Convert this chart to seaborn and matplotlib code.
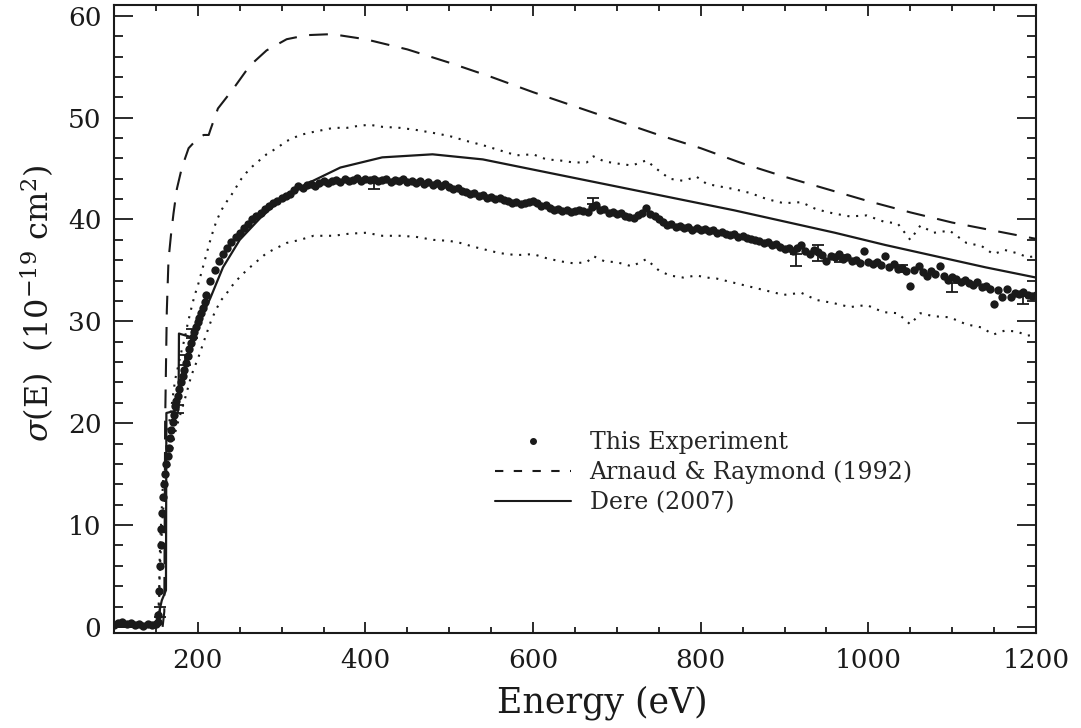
import numpy as np
import pandas as pd
import matplotlib
matplotlib.use("Agg")
import matplotlib.pyplot as plt
from matplotlib.ticker import MultipleLocator
from matplotlib.lines import Line2D
import seaborn as sns

# ---------------- data ----------------
exp_E = [100, 105, 110, 115, 120, 125, 130, 135, 140, 145,
         150, 152, 153, 154, 154.5, 155.5, 156.5, 157.5, 158.5, 159.5,
         161, 162.5, 164, 165.5, 167, 168.5, 170, 171.5, 173, 174.5,
         176, 178, 180, 182, 184, 186, 188, 190, 192, 194,
         196, 198, 200, 202, 204, 206, 208,
         210, 215, 220, 225, 230, 235, 240, 245, 250, 255,
         260, 265, 270, 275, 280, 285, 290, 295, 300, 305,
         310, 315, 320, 325, 330, 335, 340, 345, 350, 355,
         360, 365, 370, 375, 380, 385, 390, 395, 400, 405,
         410, 415, 420, 425, 430, 435, 440, 445, 450, 455,
         460, 465, 470, 475, 480, 485, 490, 495, 500, 505,
         510, 515, 520, 525, 530, 535, 540, 545, 550, 555,
         560, 565, 570, 575, 580, 585, 590, 595, 600, 605,
         610, 615, 620, 625, 630, 635, 640, 645, 650, 655,
         660, 665, 670, 675, 680, 685, 690, 695, 700, 705,
         710, 715, 720, 725, 730, 735, 740, 745, 750, 755,
         760, 765, 770, 775, 780, 785, 790, 795, 800, 805,
         810, 815, 820, 825, 830, 835, 840, 845, 850, 855,
         860, 865, 870, 875, 880, 885, 890, 895, 900, 905,
         910, 915, 920, 925, 930, 935, 940, 945, 950, 955,
         960, 965, 970, 975, 980, 985, 990, 995, 1000, 1005,
         1010, 1015, 1020, 1025, 1030, 1035, 1040, 1045, 1050, 1055,
         1060, 1065, 1070, 1075, 1080, 1085, 1090, 1095, 1100, 1105,
         1110, 1115, 1120, 1125, 1130, 1135, 1140, 1145, 1150, 1155,
         1160, 1165, 1170, 1175, 1180, 1185, 1190, 1195, 1200]
exp_sigma = [0.2, 0.4, 0.5, 0.3, 0.4, 0.2, 0.3, 0.1, 0.3, 0.2,
             0.3, 0.5, 1.2, 3.5, 6.0, 8.0, 9.6, 11.2, 12.8, 14.0,
             15.0, 16.0, 16.8, 17.6, 18.5, 19.3, 20.1, 20.8, 21.7, 22.2,
             22.7, 23.4, 24.0, 24.6, 25.2, 25.9, 26.6, 27.3, 27.9, 28.5,
             29.0, 29.4, 29.9, 30.3, 30.8, 31.3, 31.9,
             32.6, 34.0, 35.0, 35.9, 36.6, 37.2, 37.8, 38.3, 38.7, 39.2,
             39.6, 40.0, 40.3, 40.6, 41.0, 41.3, 41.6, 41.8, 42.1, 42.3,
             42.5, 42.9, 43.3, 43.1, 43.4, 43.5, 43.3, 43.6, 43.8, 43.6,
             43.8, 43.9, 43.7, 44.0, 43.8, 43.9, 44.1, 43.8, 44.0, 43.9,
             44.0, 43.8, 43.9, 44.0, 43.7, 43.9, 43.8, 44.0, 43.7, 43.8,
             43.6, 43.8, 43.5, 43.7, 43.4, 43.6, 43.3, 43.5, 43.2, 43.0,
             43.1, 42.8, 42.7, 42.5, 42.6, 42.3, 42.4, 42.1, 42.2, 42.0,
             42.1, 41.9, 41.8, 41.6, 41.7, 41.5, 41.6, 41.7, 41.8, 41.6,
             41.3, 41.4, 41.1, 40.9, 41.0, 40.8, 40.9, 40.7, 40.8, 40.9,
             40.8, 40.7, 41.2, 41.4, 40.9, 41.0, 40.6, 40.7, 40.5, 40.6,
             40.3, 40.2, 40.1, 40.4, 40.6, 41.1, 40.5, 40.3, 40.0, 39.8,
             39.5, 39.6, 39.3, 39.4, 39.2, 39.3, 39.0, 39.2, 39.0, 39.1,
             38.9, 39.0, 38.7, 38.8, 38.6, 38.5, 38.6, 38.3, 38.4, 38.2,
             38.1, 38.0, 37.9, 37.7, 37.8, 37.5, 37.6, 37.3, 37.1, 37.2,
             36.9, 37.2, 37.5, 36.9, 36.6, 37.0, 36.8, 36.5, 35.9, 36.4,
             36.3, 36.6, 36.1, 36.3, 35.9, 36.0, 35.7, 36.9, 35.8, 35.6,
             35.8, 35.5, 36.4, 35.3, 35.6, 35.1, 35.2, 34.9, 33.5, 35.0,
             35.4, 34.8, 34.5, 34.9, 34.6, 35.4, 34.5, 34.1, 34.4, 34.2,
             33.9, 34.1, 33.8, 33.6, 33.9, 33.4, 33.5, 33.2, 31.7, 33.1,
             32.4, 33.2, 32.4, 32.8, 32.7, 32.9, 32.6, 32.5, 32.6]

# points carrying visible error bars
err_E = [155, 176, 185, 193, 410, 672, 914, 940, 966, 1040, 1100, 1185]
err_sigma = [1.5, 21.4, 26.2, 28.8, 43.3, 41.8, 36.0, 36.7, 36.2, 35.2, 33.3, 32.1]
err_size = [0.5, 0.4, 0.5, 0.4, 0.3, 0.3, 0.6, 0.8, 0.35, 0.35, 0.45, 0.35]

# upper / lower systematic-uncertainty bounds (dotted)
up_E = [100, 120, 140, 150, 152, 153, 154, 154.5, 155.5, 156.5, 157.5, 158.5, 159.5,
        161, 163, 165, 167, 170, 173, 176, 180, 184, 188, 192, 196, 200, 205, 210,
        216, 222, 228, 234, 240, 246, 252, 258, 265, 272, 282, 294, 306, 322, 338,
        362, 378, 392, 405, 420, 441, 460, 481, 500, 521, 540, 560, 580, 600, 616,
        632, 648, 664, 672, 685, 700, 718, 735, 750, 763, 779, 795, 807, 819, 839,
        859, 879, 899, 920, 938, 958, 978, 998, 1018, 1035, 1050, 1062, 1078, 1097,
        1117, 1135, 1149, 1163, 1177, 1190, 1200]
up_sigma = [0.3, 0.4, 0.3, 0.35, 0.6, 1.4, 3.9, 6.7, 9.0, 10.8, 12.5, 14.3, 15.7,
            16.8, 18.0, 19.6, 20.7, 22.5, 24.3, 25.4, 26.9, 28.2, 29.8, 31.2, 32.5, 33.5, 35.0, 36.5,
            38.3, 39.8, 40.9, 41.7, 42.4, 43.2, 44.0, 44.6, 45.2, 45.7, 46.4, 47.0, 47.7, 48.3, 48.6,
            49.0, 49.0, 49.2, 49.3, 49.1, 49.0, 48.8, 48.5, 48.2, 47.7, 47.3, 46.8, 46.3, 46.4, 45.9,
            45.8, 45.6, 45.6, 46.2, 45.7, 45.5, 45.3, 45.8, 44.8, 44.0, 43.8, 44.2, 43.5, 43.3, 43.0,
            42.6, 42.0, 41.6, 41.7, 41.0, 40.6, 40.3, 40.4, 39.8, 39.6, 38.0, 39.4, 38.7, 38.9,
            37.7, 37.4, 36.6, 37.0, 36.7, 36.3, 36.4]
lo_E = [100, 120, 140, 150, 152, 153, 154, 154.5, 155.5, 156.5, 157.5, 158.5, 159.5,
        161, 163, 165, 167, 170, 173, 176, 180, 184, 188, 192, 196, 200, 205, 210,
        216, 222, 228, 234, 240, 246, 252, 258, 265, 272, 282, 294, 306, 322, 338,
        362, 380, 401, 420, 441, 460, 481, 500, 513, 530, 545, 560, 580, 600, 616,
        632, 648, 664, 672, 685, 700, 718, 735, 750, 763, 779, 795, 807, 819, 839,
        859, 879, 899, 920, 938, 958, 978, 998, 1018, 1035, 1050, 1062, 1078, 1097,
        1117, 1135, 1149, 1163, 1177, 1190, 1200]
lo_sigma = [0.2, 0.3, 0.2, 0.25, 0.45, 1.0, 3.0, 5.3, 7.0, 8.5, 9.9, 11.3, 12.3,
            13.2, 14.4, 15.4, 16.3, 17.7, 19.1, 20.0, 21.1, 22.2, 23.4, 24.6, 25.5, 26.3, 27.5, 28.7,
            30.1, 31.2, 32.1, 32.7, 33.4, 34.0, 34.5, 35.0, 35.5, 36.0, 36.7, 37.2, 37.7, 38.0, 38.4,
            38.4, 38.6, 38.7, 38.4, 38.4, 38.3, 38.0, 37.9, 37.7, 37.3, 37.0, 36.7, 36.5, 36.6, 36.2,
            35.9, 35.7, 35.8, 36.4, 35.9, 35.8, 35.4, 36.1, 35.0, 34.5, 34.3, 34.5, 34.3, 34.2, 33.8,
            33.4, 33.0, 32.6, 32.8, 32.1, 31.8, 31.4, 31.6, 30.9, 30.8, 29.7, 30.8, 30.5, 30.4,
            29.7, 29.4, 28.7, 29.1, 29.0, 28.6, 28.7]

# Arnaud & Raymond (1992)
ar_E = [158, 160, 161, 163, 165, 168, 171, 175, 181, 189, 198, 207, 213, 215, 224,
        242, 262, 282, 306, 330, 360, 400, 450, 500, 550, 600, 650, 700, 750, 800,
        850, 900, 950, 1000, 1050, 1100, 1150, 1200]
ar_sigma = [0.0, 1.5, 20.0, 31.0, 36.0, 38.5, 40.6, 43.0, 45.1, 47.0, 47.8, 48.3, 48.3, 48.8, 50.9,
            52.8, 55.1, 56.6, 57.7, 58.1, 58.2, 57.7, 56.7, 55.4, 54.0, 52.5, 51.1, 49.7, 48.3, 47.0,
            45.5, 44.2, 43.0, 41.8, 40.7, 39.7, 38.9, 38.1]

# Dere (2007)
dere_E = [100, 150, 157, 162, 162.5, 177, 177.5, 190, 196, 205, 215, 230, 250, 274, 298,
          330, 370, 420, 480, 540, 600, 660, 720, 780, 840, 900, 960, 1020, 1080, 1140, 1200]
dere_sigma = [0.0, 0.0, 2.6, 3.6, 21.0, 21.3, 28.8, 28.5, 28.3, 30.5, 32.3, 35.3, 38.0, 40.1, 41.9,
              43.5, 45.1, 46.1, 46.4, 45.9, 44.9, 43.9, 42.9, 41.9, 40.9, 39.8, 38.7, 37.5, 36.4, 35.3, 34.3]

labels = ["This Experiment", "Arnaud & Raymond (1992)", "Dere (2007)"]
x_ticks = [200, 400, 600, 800, 1000, 1200]
y_ticks = [0, 10, 20, 30, 40, 50, 60]

# ---------------- style ----------------
sns.set_theme(style="ticks")
plt.rcParams["font.family"] = ["DejaVu Serif", "DejaVu Sans"]
plt.rcParams["mathtext.fontset"] = "dejavuserif"
plt.rcParams["axes.linewidth"] = 1.5

fig = plt.figure(figsize=(10.81, 7.28), dpi=100)
ax = fig.add_axes([114 / 1081, 1 - 633 / 728, 922 / 1081, 628 / 728])

exp_df = pd.DataFrame({"E": exp_E, "sigma": exp_sigma})

sns.lineplot(x=up_E, y=up_sigma, ax=ax, color="k", lw=1.5, estimator=None, sort=False,
             linestyle=(0, (1, 3.2)))
sns.lineplot(x=lo_E, y=lo_sigma, ax=ax, color="k", lw=1.5, estimator=None, sort=False,
             linestyle=(0, (1, 3.2)))
sns.lineplot(x=ar_E, y=ar_sigma, ax=ax, color="k", lw=1.5, estimator=None, sort=False,
             linestyle=(0, (9, 6)))
sns.lineplot(x=dere_E, y=dere_sigma, ax=ax, color="k", lw=1.6, estimator=None, sort=False)
ax.errorbar(err_E, err_sigma, yerr=err_size, fmt="none", ecolor="k", elinewidth=1.3,
            capsize=4, capthick=1.3)
sns.scatterplot(data=exp_df, x="E", y="sigma", ax=ax, color="k", s=36, linewidth=0, zorder=5)

ax.set_xlim(100, 1200)
ax.set_ylim(-0.6, 61.06)
ax.set_xticks(x_ticks)
ax.set_yticks(y_ticks)
ax.xaxis.set_minor_locator(MultipleLocator(50))
ax.yaxis.set_minor_locator(MultipleLocator(2))
ax.tick_params(axis="both", which="both", direction="in", top=True, right=True,
               color="k", width=1.3, labelsize=19, labelcolor="k")
ax.tick_params(axis="x", which="major", length=8, pad=11)
ax.tick_params(axis="x", which="minor", length=4)
ax.tick_params(axis="y", which="major", length=13.5, pad=9)
ax.tick_params(axis="y", which="minor", length=6.8)
for s in ax.spines.values():
    s.set_color("k")
    s.set_linewidth(1.5)

ax.set_xlabel("Energy (eV)", fontsize=25, color="k")
ax.set_ylabel(r"$\sigma$(E)  (10$^{-19}$ cm$^{2}$)", fontsize=23, color="k")
ax.xaxis.set_label_coords(0.53, -0.084)
ax.yaxis.set_label_coords(-0.062, 0.525)

handles = [Line2D([], [], color="k", marker="o", markersize=4, linestyle="none"),
           Line2D([], [], color="k", lw=1.5, linestyle=(0, (4, 5))),
           Line2D([], [], color="k", lw=1.5)]
ax.legend(handles, labels, loc="upper left", bbox_to_anchor=(0.4133, 0.322),
          frameon=False, fontsize=17, handlelength=3.2, handletextpad=0.8,
          labelspacing=0.3, borderpad=0, borderaxespad=0)

fig.savefig("out.png", dpi=100)
